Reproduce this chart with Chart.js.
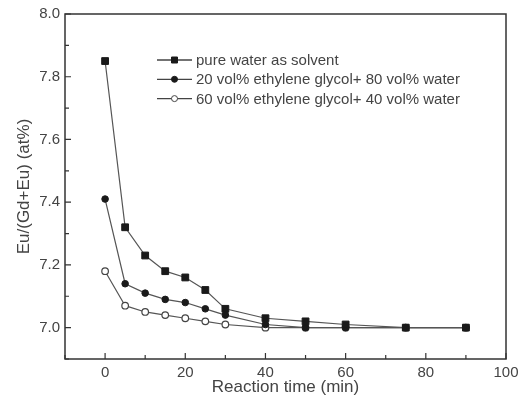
<!DOCTYPE html>
<html>
<head>
<meta charset="utf-8">
<script src="https://cdn.jsdelivr.net/npm/chart.js@4.4.0/dist/chart.umd.min.js"></script>
<style>
  html, body { margin: 0; padding: 0; background: #fff; }
</style>
</head>
<body>
<canvas id="myChart" width="531" height="400"></canvas>
<script>
// Reaktionszeit in min
var times = [0, 5, 10, 15, 20, 25, 30, 40, 50, 60, 75, 90];
// Eu/(Gd+Eu) in at%
var pureWater = [7.85, 7.32, 7.23, 7.18, 7.16, 7.12, 7.06, 7.03, 7.02, 7.01, 7.00, 7.00];
var eg20 = [7.41, 7.14, 7.11, 7.09, 7.08, 7.06, 7.04, 7.01, 7.00, 7.00, 7.00, 7.00];
var eg60 = [7.18, 7.07, 7.05, 7.04, 7.03, 7.02, 7.01, 7.00, 7.00, 7.00, 7.00, 7.00];
var seriesNames = ['pure water as solvent', '20 vol% ethylene glycol+ 80 vol% water', '60 vol% ethylene glycol+ 40 vol% water'];

var textColor = '#444';
var fontName = "'Liberation Sans', Arial, sans-serif";

function toPoints(values) {
    var pts = [];
    for (var i = 0; i < times.length; i++) {
        pts.push({ x: times[i], y: values[i] });
    }
    return pts;
}

// Rahmen, Ticks nach innen und Legende im Plot
var framePlugin = {
    id: 'framePlugin',
    afterDraw: function (chart) {
        var ctx = chart.ctx;
        var a = chart.chartArea;
        var xs = chart.scales.x, ys = chart.scales.y;
        ctx.save();
        ctx.strokeStyle = '#333';
        ctx.lineWidth = 1.5;
        ctx.strokeRect(a.left, a.top, a.right - a.left, a.bottom - a.top);

        ctx.lineWidth = 1.2;
        ctx.beginPath();
        xs.ticks.forEach(function (t) {
            var px = xs.getPixelForValue(t.value);
            var len = (Math.round(t.value) % 20 === 0) ? 6 : 4;
            ctx.moveTo(px, a.bottom);
            ctx.lineTo(px, a.bottom - len);
        });
        ys.ticks.forEach(function (t) {
            var py = ys.getPixelForValue(t.value);
            var len = (Math.round(t.value * 10) % 2 === 0) ? 6 : 4;
            ctx.moveTo(a.left, py);
            ctx.lineTo(a.left + len, py);
        });
        ctx.stroke();

        // Legende
        var lx = 157, ly = 60, gap = 19.3;
        ctx.font = '15px ' + fontName;
        ctx.textBaseline = 'middle';
        chart.data.datasets.forEach(function (ds, i) {
            var y = ly + i * gap;
            ctx.strokeStyle = '#444';
            ctx.lineWidth = 1.3;
            ctx.beginPath();
            ctx.moveTo(lx, y);
            ctx.lineTo(lx + 35, y);
            ctx.stroke();
            ctx.fillStyle = ds.pointBackgroundColor;
            ctx.strokeStyle = ds.pointBorderColor;
            ctx.lineWidth = 1;
            ctx.beginPath();
            if (ds.pointStyle === 'rect') {
                ctx.rect(lx + 17.5 - 3, y - 3, 6, 6);
            } else {
                ctx.arc(lx + 17.5, y, 3, 0, Math.PI * 2);
            }
            ctx.fill();
            ctx.stroke();
            ctx.fillStyle = textColor;
            ctx.fillText(ds.label, lx + 39, y + 1);
        });
        ctx.restore();
    }
};

var ctx = document.getElementById('myChart').getContext('2d');
var myChart = new Chart(ctx, {
    type: 'scatter',
    data: {
        datasets: [{
            label: seriesNames[0],
            data: toPoints(pureWater),
            showLine: true,
            borderColor: '#555',
            borderWidth: 1.2,
            pointStyle: 'rect',
            pointRadius: 4.8,
            pointBackgroundColor: '#1a1a1a',
            pointBorderColor: '#1a1a1a',
            pointBorderWidth: 1
        }, {
            label: seriesNames[1],
            data: toPoints(eg20),
            showLine: true,
            borderColor: '#555',
            borderWidth: 1.2,
            pointStyle: 'circle',
            pointRadius: 3.3,
            pointBackgroundColor: '#1a1a1a',
            pointBorderColor: '#1a1a1a',
            pointBorderWidth: 1
        }, {
            label: seriesNames[2],
            data: toPoints(eg60),
            showLine: true,
            borderColor: '#555',
            borderWidth: 1.2,
            pointStyle: 'circle',
            pointRadius: 3.3,
            pointBackgroundColor: '#fff',
            pointBorderColor: '#444',
            pointBorderWidth: 1.2
        }]
    },
    options: {
        responsive: false,
        animation: false,
        layout: { padding: { top: 13, right: 25, left: 0, bottom: 0 } },
        plugins: {
            legend: { display: false },
            tooltip: { enabled: false }
        },
        scales: {
            x: {
                type: 'linear',
                min: -10,
                max: 100,
                grid: { display: false, drawTicks: false },
                border: { display: false },
                afterFit: function (s) { s.height = 41; },
                ticks: {
                    stepSize: 10,
                    padding: 5,
                    color: textColor,
                    font: { family: fontName, size: 15 },
                    maxRotation: 0,
                    autoSkip: false,
                    callback: function (v) { return (Math.round(v) % 20 === 0) ? v : ''; }
                },
                title: {
                    display: true,
                    text: 'Reaction time (min)',
                    color: textColor,
                    font: { family: fontName, size: 17 },
                    padding: { top: 0, bottom: 2 }
                }
            },
            y: {
                type: 'linear',
                min: 6.9,
                max: 8.0,
                grid: { display: false, drawTicks: false },
                border: { display: false },
                afterFit: function (s) { s.width = 65; },
                ticks: {
                    stepSize: 0.1,
                    padding: 5,
                    color: textColor,
                    font: { family: fontName, size: 15 },
                    autoSkip: false,
                    callback: function (v) { return (Math.round(v * 10) % 2 === 0) ? v.toFixed(1) : ''; }
                },
                title: {
                    display: true,
                    text: 'Eu/(Gd+Eu) (at%)',
                    color: textColor,
                    font: { family: fontName, size: 17 },
                    padding: { top: 14, bottom: 0 }
                }
            }
        }
    },
    plugins: [framePlugin]
});
</script>
</body>
</html>
